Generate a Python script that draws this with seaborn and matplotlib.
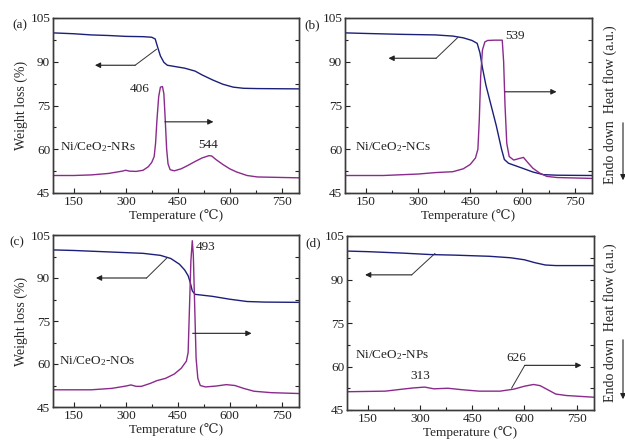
import numpy as np
import pandas as pd
import matplotlib
matplotlib.use("Agg")
import matplotlib.pyplot as plt
from matplotlib.ticker import MultipleLocator
import seaborn as sns

# ---------------- data ----------------
# (a) Ni/CeO2-NRs
t_a_tga = [90, 150, 200, 250, 300, 350, 375, 385, 392, 400, 410, 420, 440, 470, 500, 520, 550, 580, 610, 640, 680, 800]
w_a_tga = [99.9, 99.6, 99.2, 99.0, 98.7, 98.6, 98.4, 97.8, 95.0, 92.0, 89.8, 88.8, 88.4, 87.8, 86.8, 85.5, 83.8, 82.3, 81.3, 80.9, 80.8, 80.7]
t_a_dsc = [90, 150, 200, 250, 290, 300, 310, 330, 350, 365, 375, 382, 386, 390, 395, 400, 406, 410, 414, 418, 422, 428, 440,
           460, 480, 500, 520, 540, 548, 560, 580, 600, 620, 650, 680, 720, 800]
h_a_dsc = [51.0, 51.0, 51.2, 51.7, 52.5, 52.8, 52.5, 52.4, 52.8, 54.0, 55.5, 57.5, 62.0, 70.0, 78.0, 81.3, 81.5, 79.0, 70.0, 60.0, 55.0, 53.0, 52.6,
           53.3, 54.5, 55.8, 57.0, 57.8, 57.7, 56.5, 54.8, 53.3, 52.2, 51.0, 50.5, 50.4, 50.2]

# (b) Ni/CeO2-NCs
t_b_tga = [90, 150, 250, 350, 400, 430, 455, 470, 478, 485, 495, 510, 525, 540, 548, 560, 600, 630, 660, 700, 800]
w_b_tga = [99.9, 99.7, 99.4, 99.2, 98.8, 98.2, 97.3, 96.3, 93.0, 88.0, 82.0, 75.0, 68.0, 60.0, 56.5, 55.2, 53.5, 52.2, 51.3, 51.1, 51.0]
t_b_dsc = [90, 200, 300, 350, 400, 430, 450, 465, 472, 476, 480, 485, 492, 500, 520, 542, 546, 550, 555, 562, 575, 590,
           603, 615, 630, 650, 670, 700, 800]
h_b_dsc = [51.0, 51.0, 51.5, 52.0, 52.3, 53.3, 54.8, 57.0, 60.0, 70.0, 85.0, 94.0, 96.8, 97.3, 97.4, 97.4, 90.0, 75.0, 62.0, 57.5, 56.3, 56.8,
           57.2, 55.5, 53.5, 51.8, 50.7, 50.3, 50.0]

# (c) Ni/CeO2-NOs
t_c_tga = [90, 150, 250, 350, 400, 430, 455, 470, 480, 486, 492, 500, 550, 600, 650, 700, 800]
w_c_tga = [99.8, 99.6, 99.1, 98.6, 97.9, 96.8, 94.8, 92.8, 90.8, 88.5, 85.5, 84.3, 83.6, 82.6, 81.8, 81.6, 81.5]
t_c_dsc = [90, 200, 260, 300, 315, 330, 345, 370, 390, 415, 440, 460, 475, 480, 484, 488, 492, 495, 499, 503, 508, 515,
           530, 560, 590, 615, 640, 670, 720, 800]
h_c_dsc = [51.0, 51.0, 51.5, 52.3, 52.7, 52.2, 52.2, 53.2, 54.2, 55.0, 56.5, 58.5, 61.0, 64.0, 80.0, 96.0, 103.0, 98.0, 80.0, 62.0, 55.0, 52.5,
           52.0, 52.3, 52.8, 52.5, 51.5, 50.5, 50.0, 49.7]

# (d) Ni/CeO2-NPs
t_d_tga = [90, 150, 250, 330, 400, 500, 560, 600, 630, 660, 690, 800]
w_d_tga = [99.8, 99.6, 99.1, 98.6, 98.4, 98.0, 97.5, 96.8, 95.8, 95.0, 94.8, 94.8]
t_d_dsc = [90, 200, 250, 280, 313, 340, 380, 420, 470, 530, 570, 600, 626, 645, 670, 690, 720, 800]
h_d_dsc = [51.3, 51.5, 52.2, 52.6, 52.9, 52.3, 52.5, 52.0, 51.5, 51.5, 52.2, 53.2, 53.8, 53.4, 51.8, 50.5, 50.0, 49.4]

panel_tags = ["(a)", "(b)", "(c)", "(d)"]
sample_names = ["Ni/CeO$_2$-NRs", "Ni/CeO$_2$-NCs", "Ni/CeO$_2$-NOs", "Ni/CeO$_2$-NPs"]
x_ticks = [150, 300, 450, 600, 750]
y_ticks = [45, 60, 75, 90, 105]

TGA_COLOR = "#1c1f7a"
DSC_COLOR = "#8a2a8c"
SPINE = "#3a3a3a"

# ---------------- style ----------------
sns.set_theme(style="ticks")
plt.rcParams["font.family"] = ["Liberation Serif", "DejaVu Serif", "DejaVu Sans"]
plt.rcParams["mathtext.fontset"] = "custom"
plt.rcParams["mathtext.rm"] = "Liberation Serif"
plt.rcParams["mathtext.it"] = "Liberation Serif:italic"
plt.rcParams["axes.edgecolor"] = SPINE
plt.rcParams["axes.linewidth"] = 1.0

fig = plt.figure(figsize=(6.25, 4.43), dpi=100)
W, H = 625, 443

def box(l, r, t, b):
    return [l / W, 1 - b / H, (r - l) / W, (b - t) / H]

boxes = [box(53, 299, 18, 193), box(345, 592, 18, 193),
         box(53, 299, 235, 407), box(347, 594, 236, 410)]

tga = [(t_a_tga, w_a_tga), (t_b_tga, w_b_tga), (t_c_tga, w_c_tga), (t_d_tga, w_d_tga)]
dsc = [(t_a_dsc, h_a_dsc), (t_b_dsc, h_b_dsc), (t_c_dsc, h_c_dsc), (t_d_dsc, h_d_dsc)]

# annotation guides: (diag start, diag end, arrow end) for left and right arrows
left_arrows = [((389, 94.3), (327, 88.8), (211, 88.8)),
               ((415, 98.4), (352, 91.2), (215, 91.2)),
               ((418, 96.9), (360, 90.0), (214, 90.0)),
               ((343, 99.0), (276, 91.6), (142, 91.6))]
right_arrows = [((413, 69.4), (413, 69.4), (553, 69.4)),
                ((550, 79.7), (550, 79.7), (698, 79.7)),
                ((493, 70.7), (493, 70.7), (663, 70.7)),
                ((563, 52.5), (601, 60.4), (764, 60.4))]
peak_labels = [[(341, 80.5, "406"), (538, 61.5, "544")],
               [(578, 98.8, "539")],
               [(529, 100.7, "493")],
               [(300, 56.8, "313"), (576, 62.8, "626")]]
name_pos = [(110, 60.9), (118, 60.9), (108, 61.0), (113, 64.0)]
tag_pos = [(12, 25), (304, 25), (9, 242), (305, 243)]

FS = 9.5
for i in range(4):
    ax = fig.add_axes(boxes[i])
    tx, ty = tga[i]
    dx, dy = dsc[i]
    sns.lineplot(x=tx, y=ty, ax=ax, color=TGA_COLOR, lw=1.0, sort=False)
    sns.lineplot(x=dx, y=dy, ax=ax, color=DSC_COLOR, lw=1.0, sort=False)
    ax.set_xlim(90, 800)
    ax.set_ylim(45, 105)
    ax.set_xticks(x_ticks)
    ax.set_yticks(y_ticks)
    ax.xaxis.set_minor_locator(MultipleLocator(75))
    ax.yaxis.set_minor_locator(MultipleLocator(7.5))
    ax.tick_params(which="both", direction="in", top=False, right=False,
                   labelsize=FS, colors="#222222", pad=2)
    ax.tick_params(which="major", length=3.5, width=0.8)
    ax.tick_params(which="minor", length=2.2, width=0.8)
    # right-hand heat flow axis (no labels)
    axr = ax.twinx()
    axr.set_ylim(45, 105)
    axr.yaxis.set_major_locator(MultipleLocator(7.5))
    axr.tick_params(axis="y", direction="in", length=3, width=0.8, labelright=False)
    for sp in ax.spines.values():
        sp.set_visible(True)
        sp.set_color(SPINE)
    ax.set_xlabel("Temperature (\u2103)", fontsize=FS, labelpad=1)
    if i % 2 == 0:
        ax.set_ylabel("Weight loss (%)", fontsize=10, labelpad=2)
    else:
        ax.set_ylabel("")

    # arrows
    (s, m, e) = left_arrows[i]
    ax.plot([s[0], m[0]], [s[1], m[1]], color="#333333", lw=0.7)
    ax.annotate("", xy=e, xytext=m,
                arrowprops=dict(arrowstyle="-|>", color="#222222", lw=0.8,
                                mutation_scale=8, shrinkA=0, shrinkB=0))
    (s, m, e) = right_arrows[i]
    ax.plot([s[0], m[0]], [s[1], m[1]], color="#333333", lw=0.7)
    ax.annotate("", xy=e, xytext=m,
                arrowprops=dict(arrowstyle="-|>", color="#222222", lw=0.8,
                                mutation_scale=8, shrinkA=0, shrinkB=0))
    for (px, py, txt) in peak_labels[i]:
        ax.text(px, py, txt, fontsize=FS, ha="center", va="center", color="#222222")
    nx, ny = name_pos[i]
    ax.text(nx, ny, sample_names[i], fontsize=FS, ha="left", va="center", color="#222222")

    fig.text(tag_pos[i][0] / W, 1 - tag_pos[i][1] / H, panel_tags[i],
             fontsize=FS, ha="left", va="center", color="#222222")

# right side labels
for yc, (ya, yb) in [(105, (120, 183)), (323, (337, 402))]:
    fig.text(610 / W, 1 - yc / H, "Endo down  Heat flow (a.u.)", rotation=90,
             fontsize=10, ha="center", va="center", color="#222222")
    fig.add_artist(matplotlib.patches.FancyArrowPatch(
        (623 / W, 1 - ya / H), (623 / W, 1 - yb / H), transform=fig.transFigure,
        arrowstyle="-|>", mutation_scale=8, color="#222222", lw=0.8))

fig.savefig("out.png", dpi=100)
